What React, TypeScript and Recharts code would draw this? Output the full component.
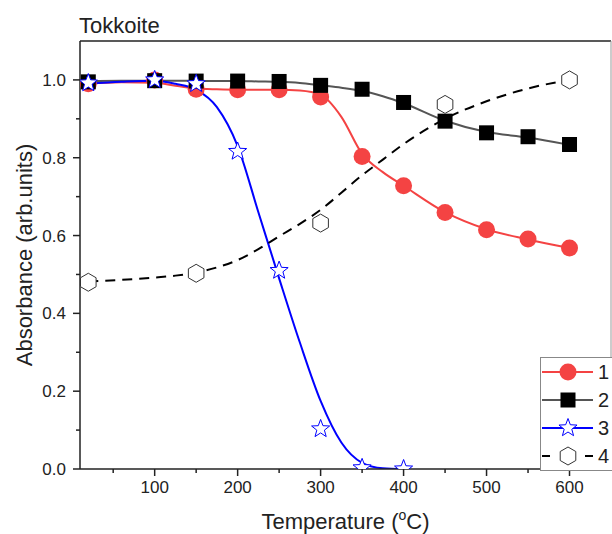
import React from 'react';
import {
    ComposedChart,
    Line,
    Scatter,
    XAxis,
    YAxis,
    ReferenceLine,
    Legend
} from 'recharts';

// measured points
const TEMPS = [20, 100, 150, 200, 250, 300, 350, 400, 450, 500, 550, 600];
const SAMPLE1 = [0.99, 1.0, 0.976, 0.975, 0.975, 0.956, 0.803, 0.728, 0.659, 0.615, 0.591, 0.568];
const SAMPLE2 = [0.995, 0.998, 0.997, 0.997, 0.996, 0.986, 0.976, 0.942, 0.894, 0.864, 0.854, 0.834];
const TEMPS3 = [20, 100, 150, 200, 250, 300, 350, 400];
const SAMPLE3 = [0.992, 1.0, 0.99, 0.816, 0.51, 0.103, 0.003, 0.0];
const TEMPS4 = [20, 150, 300, 450, 600];
const SAMPLE4 = [0.48, 0.503, 0.632, 0.937, 1.0];

// fitted curves
const FIT_TEMPS = [20, 60, 100, 125, 150, 175, 200, 225, 250, 275, 300, 325, 350, 375, 400, 450, 500, 550, 600];
const FIT1 = [0.99, 0.994, 0.993, 0.985, 0.978, 0.976, 0.975, 0.975, 0.975, 0.973, 0.962, 0.905, 0.81, 0.763, 0.728, 0.66, 0.616, 0.59, 0.568];
const FIT2 = [0.997, 0.998, 0.998, 0.998, 0.998, 0.997, 0.997, 0.996, 0.995, 0.992, 0.986, 0.98, 0.972, 0.958, 0.94, 0.895, 0.866, 0.852, 0.833];
const FIT3_TEMPS = [20, 60, 100, 125, 150, 175, 200, 225, 250, 275, 300, 325, 350, 375, 400];
const FIT3 = [0.99, 0.995, 0.998, 0.99, 0.975, 0.93, 0.83, 0.66, 0.49, 0.325, 0.175, 0.068, 0.016, 0.002, 0.0];
const FIT4 = [0.482, 0.486, 0.492, 0.497, 0.505, 0.518, 0.537, 0.565, 0.598, 0.63, 0.666, 0.71, 0.755, 0.795, 0.835, 0.9, 0.945, 0.978, 1.0];

const X_TICKS = [50, 100, 150, 200, 250, 300, 350, 400, 450, 500, 550, 600];
const Y_TICKS = [0, 0.1, 0.2, 0.3, 0.4, 0.5, 0.6, 0.7, 0.8, 0.9, 1.0];
const LEGEND_LABELS = ['1', '2', '3', '4'];

const RED = '#f44343';
const BLUE = '#0000ff';
const FONT = '"Liberation Sans", Arial, sans-serif';
const TEXT = '#222';

const pairs = (ts: number[], vs: number[]) => ts.map((t, i) => ({ t, v: vs[i] }));

const starPoints = (cx: number, cy: number, ro: number, ri: number) => {
    const pts: string[] = [];
    for (let i = 0; i < 10; i++) {
        const r = i % 2 === 0 ? ro : ri;
        const a = -Math.PI / 2 + (i * Math.PI) / 5;
        pts.push(`${cx + r * Math.cos(a)},${cy + r * Math.sin(a)}`);
    }
    return pts.join(' ');
};

const hexPoints = (cx: number, cy: number, r: number) => {
    const pts: string[] = [];
    for (let i = 0; i < 6; i++) {
        const a = -Math.PI / 2 + (i * Math.PI) / 3;
        pts.push(`${cx + r * Math.cos(a)},${cy + r * Math.sin(a)}`);
    }
    return pts.join(' ');
};

const CircleMark = ({ cx, cy }: any) => <circle cx={cx} cy={cy} r={8.5} fill={RED} />;
const SquareMark = ({ cx, cy }: any) => <rect x={cx - 7.5} y={cy - 7.5} width={15} height={15} fill="#000" />;
const StarMark = ({ cx, cy }: any) => (
    <polygon points={starPoints(cx, cy, 9.5, 4)} fill="#fff" stroke={BLUE} strokeWidth={1} />
);
const HexMark = ({ cx, cy }: any) => (
    <polygon points={hexPoints(cx, cy, 9)} fill="#fff" stroke="#333" strokeWidth={1} />
);

const XTick = ({ x, y, payload }: any) => {
    const major = payload.value % 100 === 0;
    return (
        <g>
            <line x1={x} x2={x} y1={y} y2={y + (major ? 7 : 4)} stroke={TEXT} strokeWidth={1.5} />
            {major && (
                <text x={x} y={y + 24} textAnchor="middle" fontSize={17} fontFamily={FONT} fill={TEXT}>
                    {payload.value}
                </text>
            )}
        </g>
    );
};

const YTick = ({ x, y, payload }: any) => {
    const major = Math.round(payload.value * 10) % 2 === 0;
    return (
        <g>
            <line x1={x} x2={x - (major ? 7 : 4)} y1={y} y2={y} stroke={TEXT} strokeWidth={1.5} />
            {major && (
                <text x={x - 14} y={y + 6} textAnchor="end" fontSize={17} fontFamily={FONT} fill={TEXT}>
                    {payload.value.toFixed(1)}
                </text>
            )}
        </g>
    );
};

const LegendBox = () => (
    <svg width={72} height={114} style={{ display: 'block', background: '#fff' }}>
        <rect x={0.5} y={0.5} width={75} height={113} fill="#fff" stroke="#888" />
        {LEGEND_LABELS.map((label, i) => {
            const cy = 15 + i * 28;
            return (
                <g key={label}>
                    {i === 0 && <line x1={2} x2={53} y1={cy} y2={cy} stroke={RED} strokeWidth={2} />}
                    {i === 1 && <line x1={2} x2={53} y1={cy} y2={cy} stroke="#555" strokeWidth={2} />}
                    {i === 2 && <line x1={2} x2={53} y1={cy} y2={cy} stroke={BLUE} strokeWidth={2} />}
                    {i === 3 && (
                        <g>
                            <line x1={2} x2={10} y1={cy} y2={cy} stroke="#000" strokeWidth={2} />
                            <line x1={45} x2={53} y1={cy} y2={cy} stroke="#000" strokeWidth={2} />
                        </g>
                    )}
                    {i === 0 && <CircleMark cx={28} cy={cy} />}
                    {i === 1 && <SquareMark cx={28} cy={cy} />}
                    {i === 2 && <StarMark cx={28} cy={cy} />}
                    {i === 3 && <HexMark cx={28} cy={cy} />}
                    <text x={58} y={cy + 7} fontSize={20} fontFamily={FONT} fill={TEXT}>
                        {label}
                    </text>
                </g>
            );
        })}
    </svg>
);

const XLabel = ({ viewBox }: any) => {
    const cx = viewBox.x + viewBox.width / 2;
    return (
        <text x={cx} y={529} textAnchor="middle" fontSize={22} fontFamily={FONT} fill={TEXT}>
            Temperature (
            <tspan fontSize={14} dy={-9}>o</tspan>
            <tspan dy={9}>C)</tspan>
        </text>
    );
};

const YLabel = ({ viewBox }: any) => {
    const cy = viewBox.y + viewBox.height / 2;
    return (
        <text
            x={32}
            y={cy}
            transform={`rotate(-90, 32, ${cy})`}
            textAnchor="middle"
            fontSize={22}
            fontFamily={FONT}
            fill={TEXT}
        >
            Absorbance (arb.units)
        </text>
    );
};

const App = () => {
    return (
        <div style={{ position: 'absolute', left: 0, top: 0, width: 612, height: 534, background: '#fff' }}>
            <ComposedChart width={612} height={534} margin={{ top: 41, right: 1, left: 0, bottom: 0 }}>
                <XAxis
                    type="number"
                    dataKey="t"
                    domain={[10, 650]}
                    ticks={X_TICKS}
                    interval={0}
                    height={65}
                    tickSize={0}
                    tickMargin={0}
                    tickLine={false}
                    tick={<XTick />}
                    axisLine={{ stroke: TEXT, strokeWidth: 1.5 }}
                    label={<XLabel />}
                    allowDataOverflow
                />
                <YAxis
                    type="number"
                    dataKey="v"
                    domain={[0, 1.1]}
                    ticks={Y_TICKS}
                    interval={0}
                    width={80}
                    tickSize={0}
                    tickMargin={0}
                    tickLine={false}
                    tick={<YTick />}
                    axisLine={{ stroke: TEXT, strokeWidth: 1.5 }}
                    label={<YLabel />}
                    allowDataOverflow
                />
                <ReferenceLine y={1.1} stroke={TEXT} strokeWidth={1.5} />
                <ReferenceLine x={650} stroke="#999" strokeWidth={1} />

                <Line data={pairs(FIT_TEMPS, FIT1)} dataKey="v" type="monotone" stroke={RED} strokeWidth={2}
                    dot={false} activeDot={false} isAnimationActive={false} />
                <Scatter data={pairs(TEMPS, SAMPLE1)} dataKey="v" shape={<CircleMark />} isAnimationActive={false} />

                <Line data={pairs(FIT_TEMPS, FIT2)} dataKey="v" type="monotone" stroke="#555" strokeWidth={2}
                    dot={false} activeDot={false} isAnimationActive={false} />
                <Scatter data={pairs(TEMPS, SAMPLE2)} dataKey="v" shape={<SquareMark />} isAnimationActive={false} />

                <Line data={pairs(FIT3_TEMPS, FIT3)} dataKey="v" type="monotone" stroke={BLUE} strokeWidth={2}
                    dot={false} activeDot={false} isAnimationActive={false} />
                <Scatter data={pairs(TEMPS3, SAMPLE3)} dataKey="v" shape={<StarMark />} isAnimationActive={false} />

                <Line data={pairs(FIT_TEMPS, FIT4)} dataKey="v" type="monotone" stroke="#000" strokeWidth={2}
                    strokeDasharray="10 7" dot={false} activeDot={false} isAnimationActive={false} />
                <Scatter data={pairs(TEMPS4, SAMPLE4)} dataKey="v" shape={<HexMark />} isAnimationActive={false} />

                <Legend
                    layout="vertical"
                    align="center"
                    verticalAlign="middle"
                    content={<LegendBox />}
                    wrapperStyle={{ left: 540, top: 357, width: 72, height: 114, right: 'auto', bottom: 'auto' }}
                />
            </ComposedChart>
            <div
                style={{
                    position: 'absolute',
                    left: 79,
                    top: 13,
                    fontSize: 22,
                    fontFamily: FONT,
                    color: TEXT
                }}
            >
                Tokkoite
            </div>
        </div>
    );
};

export default App;
